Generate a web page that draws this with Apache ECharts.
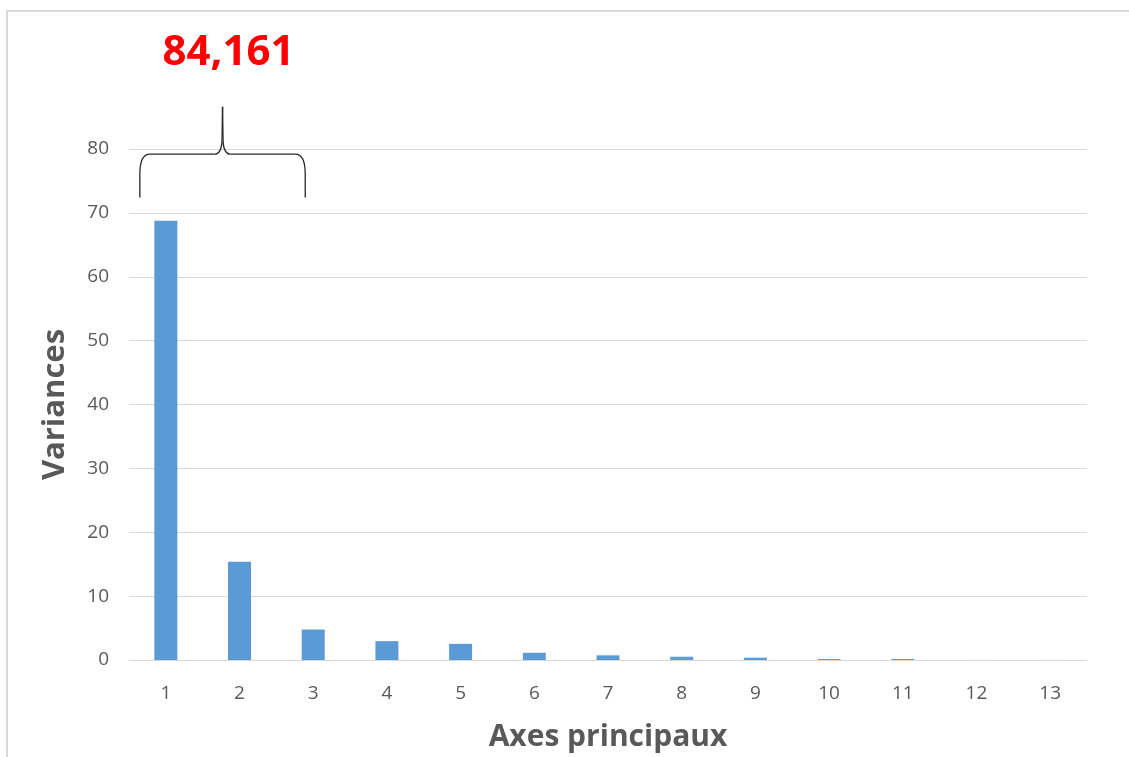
<!DOCTYPE html>
<html>
<head>
<meta charset="utf-8">
<script src="https://cdn.jsdelivr.net/npm/echarts@6/dist/echarts.min.js"></script>
<style>
  html, body { margin: 0; padding: 0; background: #ffffff; overflow: hidden; }
  #chart { width: 1129px; height: 757px; }
</style>
</head>
<body>
<div id="chart"></div>
<script>
// Principal axes and the variance (%) carried by each
const axes = ['1', '2', '3', '4', '5', '6', '7', '8', '9', '10', '11', '12', '13'];
const variances = [68.76, 15.401, 4.77, 2.95, 2.53, 1.13, 0.73, 0.51, 0.36, 0.16, 0.16, 0.01, 0.01];
const yTicks = { min: 0, max: 80, interval: 10 };
// Axes grouped under the brace (the first two carry the bulk of the variance)
const braceAxes = ['1', '2'];

const chart = echarts.init(document.getElementById('chart'), null, { renderer: 'canvas' });

const grey = '#595959';
const gridGrey = '#d9d9d9';
const font = '"Open Sans", "Noto Sans", sans-serif';

chart.setOption({
  animation: false,
  backgroundColor: '#ffffff',
  grid: { left: 129, top: 149, width: 958, height: 515, containLabel: false },
  xAxis: {
    type: 'category',
    data: axes,
    name: 'Axes principaux',
    nameLocation: 'middle',
    nameGap: 62,
    nameTextStyle: { color: grey, fontSize: 30, fontWeight: 'bold', fontFamily: font },
    axisLine: { lineStyle: { color: gridGrey, width: 1 } },
    axisTick: { show: false },
    axisLabel: { color: grey, fontSize: 19, fontFamily: font, margin: 24 },
    splitLine: { show: false }
  },
  yAxis: {
    type: 'value',
    min: yTicks.min,
    max: yTicks.max,
    interval: yTicks.interval,
    name: 'Variances',
    nameLocation: 'middle',
    nameRotate: 90,
    nameGap: 58,
    nameTextStyle: { color: grey, fontSize: 31, fontWeight: 'bold', fontFamily: font },
    axisLine: { show: false },
    axisTick: { show: false },
    axisLabel: { color: grey, fontSize: 19, fontFamily: font, margin: 20 },
    splitLine: { lineStyle: { color: gridGrey, width: 1 } }
  },
  series: [{
    type: 'bar',
    data: variances,
    barWidth: 23,
    itemStyle: { color: '#5b9bd5' }
  }]
});

// Brace over the leading axes, with the cumulative variance written above it
function drawBrace() {
  const toPx = (cat, val) => chart.convertToPixel({ gridIndex: 0 }, [cat, val]);
  const first = toPx(braceAxes[0], 0);
  const third = toPx(axes[2], 0);
  const xL = first[0] - 26;
  const xR = third[0] - 8;
  const xM = (xL + xR) / 2;
  const yB = toPx(axes[0], 72.4)[1];
  const yH = toPx(axes[0], 79.2)[1];
  const yT = toPx(axes[0], 86.6)[1];
  const r = 10;
  const braceStyle = { stroke: '#262626', lineWidth: 1.3, fill: null };

  const seg = (x1, y1, x2, y2) => ({
    type: 'line', silent: true, z: 10,
    shape: { x1, y1, x2, y2 }, style: braceStyle
  });
  const curve = (x1, y1, cx, cy, x2, y2) => ({
    type: 'bezierCurve', silent: true, z: 10,
    shape: { x1, y1, cpx1: cx, cpy1: cy, x2, y2 }, style: braceStyle
  });

  const total = braceAxes.reduce((s, a) => s + variances[axes.indexOf(a)], 0);
  const label = total.toFixed(3).replace('.', ',');

  chart.setOption({
    graphic: [
      {
        type: 'rect',
        silent: true,
        z: 0,
        shape: { x: 7, y: 11, width: 1140, height: 780 },
        style: { fill: null, stroke: gridGrey, lineWidth: 2 }
      },
      seg(xL, yB, xL, yH + 2 * r),
      curve(xL, yH + 2 * r, xL, yH, xL + r, yH),
      seg(xL + r, yH, xM - 8, yH),
      curve(xM - 8, yH, xM - 1, yH, xM - 0.5, yH - 14),
      seg(xM - 0.5, yH - 14, xM, yT),
      seg(xM, yT, xM + 0.5, yH - 14),
      curve(xM + 0.5, yH - 14, xM + 1, yH, xM + 8, yH),
      seg(xM + 8, yH, xR - r, yH),
      curve(xR - r, yH, xR, yH, xR, yH + 2 * r),
      seg(xR, yH + 2 * r, xR, yB),
      {
        type: 'text',
        silent: true,
        z: 10,
        x: xM + 6,
        y: yT - 54,
        style: {
          text: label,
          fill: '#ff0000',
          font: 'bold 42px ' + font,
          textAlign: 'center',
          textVerticalAlign: 'middle'
        }
      }
    ]
  });
}
drawBrace();
</script>
</body>
</html>
